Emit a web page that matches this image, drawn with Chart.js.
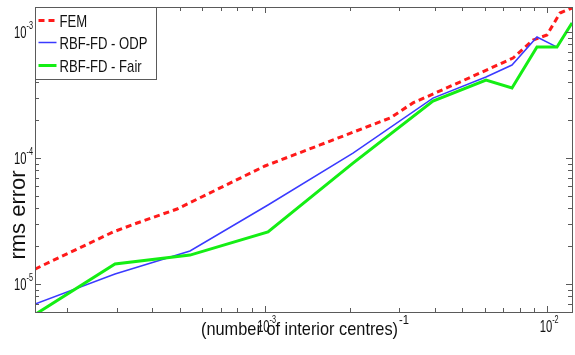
<!DOCTYPE html>
<html>
<head>
<meta charset="utf-8">
<script src="https://cdn.jsdelivr.net/npm/chart.js@4.4.1/dist/chart.umd.min.js"></script>
<style>
  html, body { margin: 0; padding: 0; background: #fff; }
  #wrap { width: 575px; height: 355px; }
</style>
</head>
<body>
<div id="wrap"><canvas id="errChart" width="575" height="355"></canvas></div>
<script>
// (number of interior centres)^-1 for the FEM runs
const femX = [1.54e-4, 2.91e-4, 3.54e-4, 4.90e-4, 1.003e-3, 1.571e-3, 2.78e-3, 3.35e-3, 4.91e-3, 7.57e-3, 8.91e-3, 9.98e-3, 1.11e-2, 1.224e-2];
const femErr = [1.315e-5, 2.59e-5, 3.05e-5, 3.94e-5, 8.65e-5, 1.27e-4, 2.08e-4, 2.74e-4, 4.01e-4, 6.22e-4, 8.65e-4, 9.47e-4, 1.416e-3, 1.55e-3];

// same for the RBF-FD runs
const rbfX = [1.54e-4, 2.955e-4, 5.445e-4, 1.028e-3, 2.055e-3, 3.943e-3, 6.073e-3, 7.506e-3, 9.2e-3, 1.083e-2, 1.224e-2];
const odpErr = [6.93e-6, 1.2e-5, 1.83e-5, 4.24e-5, 1.096e-4, 2.99e-4, 4.4e-4, 5.47e-4, 9.13e-4, 7.6e-4, 1.18e-3];
const fairErr = [5.73e-6, 1.442e-5, 1.698e-5, 2.59e-5, 9.12e-5, 2.83e-4, 4.16e-4, 3.6e-4, 7.6e-4, 7.6e-4, 1.18e-3];

const seriesNames = ['FEM', 'RBF-FD - ODP', 'RBF-FD - Fair'];

// decade ticks, written as base + exponent
const xDecades = [1e-3, 1e-2];
const xExponents = ['-3', '-2'];
const yDecades = [1e-5, 1e-4, 1e-3];
const yExponents = ['-5', '-4', '-3'];

const xRange = [1.54e-4, 1.224e-2];
const yRange = [6.0e-6, 1.58e-3];

const sans = '"Liberation Sans", Arial, sans-serif';
const axisGrey = '#5a5a5a';
const textCol = '#111';

function pts(xs, ys) {
  return xs.map((x, i) => ({ x: x, y: ys[i] }));
}

// 1..9 x 10^n inside the scale range
function logSteps(scale) {
  const out = [];
  const lo = Math.floor(Math.log10(scale.min));
  const hi = Math.ceil(Math.log10(scale.max));
  for (let e = lo; e <= hi; e++) {
    for (let k = 1; k <= 9; k++) {
      const v = k * Math.pow(10, e);
      if (v >= scale.min * 0.9999 && v <= scale.max * 1.0001) out.push({ v: v, major: k === 1 });
    }
  }
  return out;
}

// condensed text, the source figure's font is narrow
function squeezed(ctx, txt, x, y, size, sx) {
  ctx.save();
  ctx.font = size + 'px ' + sans;
  ctx.translate(x, y);
  ctx.scale(sx, 1);
  ctx.fillText(txt, 0, 0);
  ctx.restore();
}

// "10" with a raised exponent; anchor is 'right' or 'center'
function powLabel(ctx, exp, x, baseline, anchor) {
  const sx = 0.66;
  ctx.save();
  ctx.font = '17px ' + sans;
  const wb = ctx.measureText('10').width;
  ctx.font = '11px ' + sans;
  const we = ctx.measureText(exp).width;
  const total = (wb + we) * sx;
  const x0 = anchor === 'right' ? x - total : x - total / 2;
  ctx.textAlign = 'left';
  ctx.textBaseline = 'alphabetic';
  ctx.fillStyle = textCol;
  squeezed(ctx, '10', x0, baseline, 17, sx);
  squeezed(ctx, exp, x0 + wb * sx, baseline - 9, 11, sx);
  ctx.restore();
}

// matlab style box with ticks pointing in on all four sides
const boxTicks = {
  id: 'boxTicks',
  afterDatasetsDraw(chart) {
    const { ctx, chartArea: a, scales } = chart;
    ctx.save();
    ctx.strokeStyle = axisGrey;
    ctx.lineWidth = 1;
    ctx.beginPath();
    logSteps(scales.x).forEach(t => {
      const px = Math.round(scales.x.getPixelForValue(t.v)) + 0.5;
      const len = t.major ? 6 : 4;
      ctx.moveTo(px, a.bottom); ctx.lineTo(px, a.bottom - len);
      ctx.moveTo(px, a.top); ctx.lineTo(px, a.top + len);
    });
    logSteps(scales.y).forEach(t => {
      const py = Math.round(scales.y.getPixelForValue(t.v)) + 0.5;
      const len = t.major ? 6 : 4;
      ctx.moveTo(a.left, py); ctx.lineTo(a.left + len, py);
      ctx.moveTo(a.right, py); ctx.lineTo(a.right - len, py);
    });
    ctx.stroke();
    ctx.strokeRect(Math.round(a.left) + 0.5, Math.round(a.top) + 0.5,
                   Math.round(a.right - a.left), Math.round(a.bottom - a.top));

    // decade labels
    xDecades.forEach((d, i) => {
      powLabel(ctx, xExponents[i], scales.x.getPixelForValue(d) + 2, a.bottom + 20, 'center');
    });
    yDecades.forEach((d, i) => {
      powLabel(ctx, yExponents[i], a.left - 2, scales.y.getPixelForValue(d) + 6, 'right');
    });
    ctx.restore();
  }
};

// legend box in the top-left corner of the axes
const boxLegend = {
  id: 'boxLegend',
  afterDraw(chart) {
    const { ctx, chartArea: a } = chart;
    const x0 = Math.round(a.left) + 0.5, y0 = Math.round(a.top) + 0.5;
    const w = 121, h = 72;
    ctx.save();
    ctx.fillStyle = '#fff';
    ctx.fillRect(x0, y0, w, h);
    ctx.strokeStyle = axisGrey;
    ctx.lineWidth = 1;
    ctx.strokeRect(x0, y0, w, h);
    const rows = [13, 35, 58];
    chart.data.datasets.forEach((ds, i) => {
      const y = y0 + rows[i];
      ctx.beginPath();
      ctx.strokeStyle = ds.borderColor;
      ctx.lineWidth = ds.borderWidth;
      ctx.setLineDash(ds.borderDash || []);
      ctx.moveTo(x0 + 3, y);
      ctx.lineTo(x0 + 21, y);
      ctx.stroke();
      ctx.setLineDash([]);
      ctx.fillStyle = textCol;
      ctx.textBaseline = 'alphabetic';
      ctx.textAlign = 'left';
      squeezed(ctx, ds.label, x0 + 24, y + 6.5, 17, 0.77);
    });
    ctx.restore();
  }
};

// axis titles
const axisTitles = {
  id: 'axisTitles',
  afterDraw(chart) {
    const { ctx } = chart;
    ctx.save();
    ctx.fillStyle = textCol;
    ctx.textAlign = 'left';
    ctx.textBaseline = 'alphabetic';
    const main = '(number of interior centres)';
    ctx.font = '19px ' + sans;
    const wm = ctx.measureText(main).width * 0.86;
    squeezed(ctx, main, 201, 335, 19, 0.86);
    squeezed(ctx, '-1', 201 + wm + 1, 324, 13, 0.86);

    ctx.translate(25, 215);
    ctx.rotate(-Math.PI / 2);
    ctx.font = '22px ' + sans;
    ctx.textAlign = 'center';
    ctx.fillText('rms error', 0, 0);
    ctx.restore();
  }
};

new Chart(document.getElementById('errChart'), {
  type: 'line',
  data: {
    datasets: [
      { label: seriesNames[0], data: pts(femX, femErr), borderColor: '#ff1a1a', borderWidth: 3, borderDash: [6, 4], order: 2 },
      { label: seriesNames[1], data: pts(rbfX, odpErr), borderColor: '#3a3aff', borderWidth: 1.5, order: 1 },
      { label: seriesNames[2], data: pts(rbfX, fairErr), borderColor: '#14ee14', borderWidth: 3, order: 0 }
    ]
  },
  options: {
    responsive: false,
    animation: false,
    devicePixelRatio: 1,
    layout: { padding: { left: 0, right: 3, top: 7, bottom: 0 }, autoPadding: false },
    elements: { point: { radius: 0 }, line: { tension: 0, fill: false } },
    datasets: { line: { clip: 0 } },
    plugins: { legend: { display: false }, tooltip: { enabled: false } },
    scales: {
      x: {
        type: 'logarithmic',
        min: xRange[0], max: xRange[1],
        grid: { display: false, drawTicks: false },
        border: { display: false },
        ticks: { display: false },
        afterFit: s => { s.height = 43; }
      },
      y: {
        type: 'logarithmic',
        min: yRange[0], max: yRange[1],
        grid: { display: false, drawTicks: false },
        border: { display: false },
        ticks: { display: false },
        afterFit: s => { s.width = 35; }
      }
    }
  },
  plugins: [boxTicks, boxLegend, axisTitles]
});
</script>
</body>
</html>
